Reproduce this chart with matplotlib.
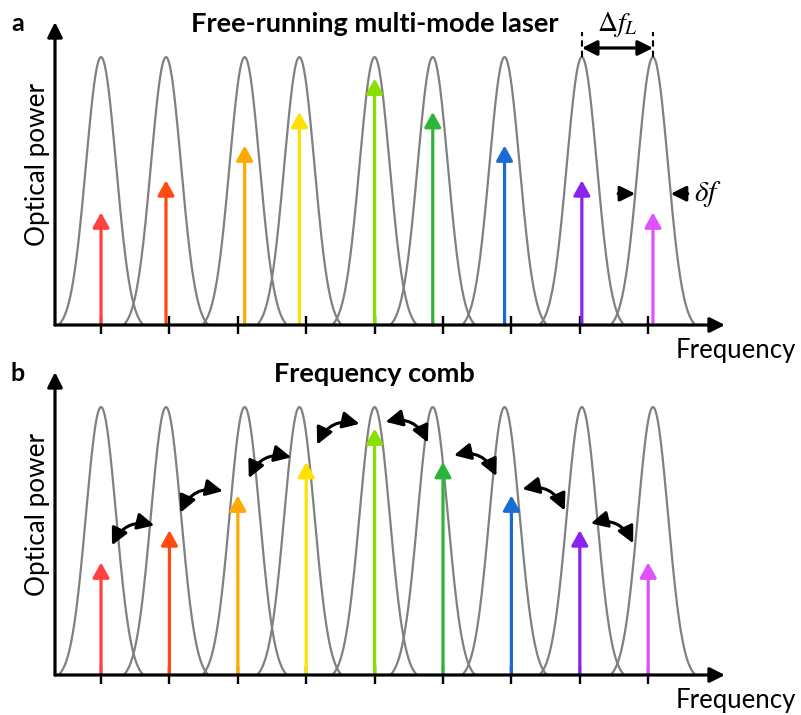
import numpy as np
import matplotlib
matplotlib.use("Agg")
import matplotlib.pyplot as plt

plt.rcParams['font.family'] = ['Lato', 'DejaVu Sans']
plt.rcParams['mathtext.fontset'] = 'stix'

# comb grid positions (tick marks) and cavity mode centres
grid = [0, 1, 2, 3, 4, 5, 6, 7, 8]
modes = [0.0, 0.95, 2.1, 2.9, 4.0, 4.85, 5.9, 7.03, 8.07]
# line powers (relative to mode peak = 1)
power = [0.42, 0.54, 0.67, 0.795, 0.92, 0.795, 0.67, 0.54, 0.42]
colors = ['#FF4040', '#FF4A10', '#FFAA00', '#FFE000', '#88E000',
          '#2DB53A', '#1A6CD4', '#8A22F0', '#E050FF']

sigma = 0.22
half = 0.62


def draw_panel(ax, lines_x, title, letter, title_size):
    ax.set_xlim(-0.673, 9.123)
    ax.set_ylim(0, 1.131)
    for s in ax.spines.values():
        s.set_visible(False)
    ax.set_yticks([])
    ax.set_xticks(grid)
    ax.set_xticklabels([])
    ax.tick_params(axis='x', direction='inout', length=13, width=1.7, color='black')

    # mode envelopes
    for m in modes:
        x = np.linspace(m - half, m + half, 200)
        e0 = np.exp(-half**2 / (2 * sigma**2))
        y = (np.exp(-(x - m)**2 / (2 * sigma**2)) - e0) / (1 - e0)
        ax.plot(x, y, color='#808080', lw=1.6, zorder=2)

    # spectral lines
    for xl, p, c in zip(lines_x, power, colors):
        ax.annotate('', xy=(xl, p), xytext=(xl, 0),
                    arrowprops=dict(arrowstyle='-|>,head_length=0.9,head_width=0.5',
                                    color=c, lw=2.3, shrinkA=0, shrinkB=0,
                                    mutation_scale=10), zorder=3)

    # axes with arrowheads
    arr = dict(arrowstyle='-|>,head_length=0.9,head_width=0.45', color='black',
               lw=2.3, shrinkA=0, shrinkB=0, mutation_scale=10)
    ax.annotate('', xy=(1, 0), xytext=(0, 0), xycoords='axes fraction',
                arrowprops=arr, zorder=4)
    ax.annotate('', xy=(0, 1), xytext=(0, 0), xycoords='axes fraction',
                arrowprops=arr, zorder=4)

    ax.text(-0.026, 0.53, 'Optical power', transform=ax.transAxes, rotation=90,
            ha='center', va='center', fontsize=18.8)
    ax.text(0.927, -0.083, 'Frequency', transform=ax.transAxes,
            ha='left', va='center', fontsize=18.5)
    ax.text(4.0, 1.125, title, ha='center', va='center', fontsize=title_size,
            fontweight='bold', clip_on=False)
    ax.text(-1.22, 1.125, letter, ha='center', va='center', fontsize=18,
            fontweight='bold', clip_on=False)


fig = plt.figure(figsize=(8.01, 7.15), dpi=100)
ax1 = fig.add_axes([55 / 801, 1 - 325 / 715, 670 / 801, 303 / 715])
ax2 = fig.add_axes([55 / 801, 1 - 675 / 715, 670 / 801, 303 / 715])

# a: free-running lines sit on the cavity modes
draw_panel(ax1, modes, 'Free-running multi-mode laser', 'a', 19.6)
# b: comb lines sit on the equally spaced grid
draw_panel(ax2, grid, 'Frequency comb', 'b', 19.5)

# mode spacing marker
ax1.plot([modes[7], modes[7]], [1.0, 1.093], color='black', lw=1.5,
         ls=(0, (3, 2)), clip_on=False)
ax1.plot([modes[8], modes[8]], [1.0, 1.093], color='black', lw=1.5,
         ls=(0, (3, 2)), clip_on=False)
ax1.annotate('', xy=(modes[8], 1.034), xytext=(modes[7], 1.034),
             arrowprops=dict(arrowstyle='<|-|>,head_length=0.9,head_width=0.45',
                             color='black', lw=2.3, shrinkA=0, shrinkB=0,
                             mutation_scale=10), annotation_clip=False)
ax1.text((modes[7] + modes[8]) / 2, 1.12, r'$\Delta f_L$', ha='center',
         va='center', fontsize=20, clip_on=False)

# linewidth marker at half maximum
fwhm_half = sigma * np.sqrt(2 * np.log(2))
ydf = 0.49
ax1.annotate('', xy=(modes[8] - fwhm_half, ydf), xytext=(modes[8] - fwhm_half - 0.25, ydf),
             arrowprops=dict(arrowstyle='-|>,head_length=0.9,head_width=0.45',
                             color='black', lw=2.3, shrinkA=0, shrinkB=0,
                             mutation_scale=10))
ax1.annotate('', xy=(modes[8] + fwhm_half, ydf), xytext=(modes[8] + fwhm_half + 0.25, ydf),
             arrowprops=dict(arrowstyle='-|>,head_length=0.9,head_width=0.45',
                             color='black', lw=2.3, shrinkA=0, shrinkB=0,
                             mutation_scale=10))
ax1.text(modes[8] + 0.6, ydf, r'$\delta f$', ha='left', va='center', fontsize=21)

# phase-locking links between neighbouring comb lines
for i in range(len(grid) - 1):
    x0 = grid[i] + 0.16
    x1 = grid[i] + 0.78
    y0 = power[i] + (power[i + 1] - power[i]) * 0.16 + 0.045
    y1 = power[i] + (power[i + 1] - power[i]) * 0.78 + 0.045
    ax2.annotate('', xy=(x1, y1), xytext=(x0, y0),
                 arrowprops=dict(arrowstyle='<|-|>,head_length=1.0,head_width=0.5',
                                 color='black', lw=2.2, shrinkA=0, shrinkB=0,
                                 mutation_scale=10,
                                 connectionstyle='arc3,rad=-0.4'), zorder=5)

fig.savefig('out.png', dpi=100)
